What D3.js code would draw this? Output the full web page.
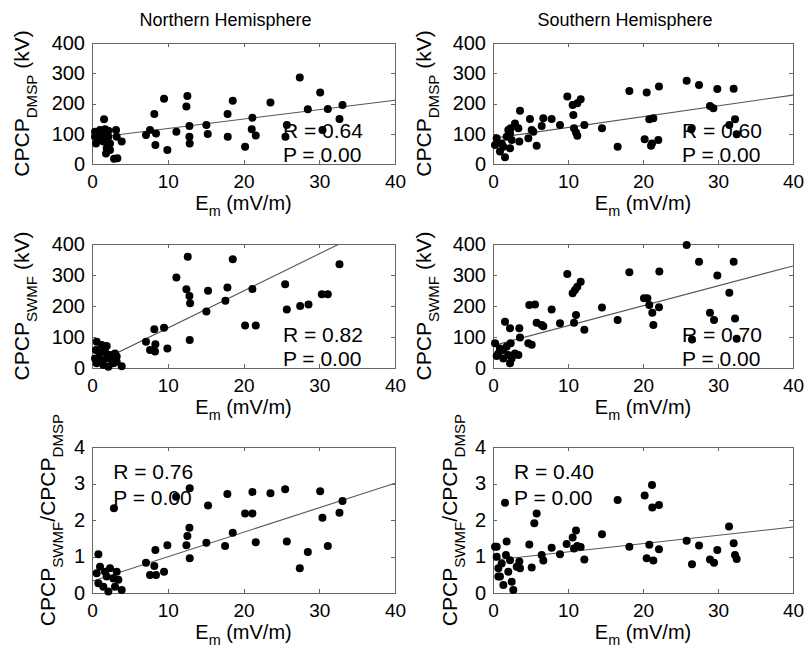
<!DOCTYPE html>
<html>
<head>
<meta charset="utf-8">
<script src="https://cdn.jsdelivr.net/npm/d3@7"></script>
<style>
  body { margin: 0; background: #fff; }
  text { font-family: "Liberation Sans", Arial, Helvetica, sans-serif; fill: #000; }
  .frame path, .frame line { stroke: #666; shape-rendering: crispEdges; }
</style>
</head>
<body>
<svg id="chart" width="806" height="649"></svg>
<script>
// ---- data ----
var titles = ["Northern Hemisphere", "Southern Hemisphere"];
var xTicks = [0, 10, 20, 30, 40];
var cpcpTicks = [0, 100, 200, 300, 400];
var ratioTicks = [0, 1, 2, 3, 4];

// E_m (mV/m), CPCP_DMSP (kV)
var nhDmsp = [
  [1.59,148],[0.40,107],[1.06,112],[1.72,115],[2.16,110],[3.17,112],[0.40,90],[1.28,96],
  [2.16,90],[3.26,90],[0.53,68],[1.50,74],[2.38,68],[3.92,74],[1.94,52],[2.38,46],[1.85,35],
  [2.91,17],[3.35,19],[0.84,85],
  [8.23,165],[9.51,216],[7.66,112],[7.13,96],[8.45,101],[8.37,63],[9.95,46],[11.14,107],
  [12.59,225],[12.46,190],[12.86,126],[12.86,90],[12.90,68],[15.1,129],[15.28,99],[17.9,165],
  [18.58,209],[17.92,90],[21.18,153],[21.09,115],[21.62,94],[20.21,57],[23.56,203],[25.54,90],
  [25.72,129],[27.43,286],[28.49,181],[30.12,236],[30.43,112],[31.13,182],[32.67,149],[33.07,195]
];
var shDmsp = [
  [0.49,85],[0.27,63],[1.16,68],[1.82,90],[2.27,101],[2.36,118],[2.93,134],[2.04,112],[1.38,57],
  [2.27,52],[0.93,41],[1.6,22],[2.49,79],[3.51,74],[3.38,118],[3.6,176],[4.71,85],[4.93,149],
  [5.38,107],[5.82,60],[5.16,112],[6.49,126],[6.71,151],[7.82,149],[8.93,129],[9.91,223],
  [10.62,195],[11.24,201],[11.69,214],[10.71,162],[10.8,118],[11.07,104],[11.24,93],[12.18,129],
  [14.53,118],[16.62,57],[18.18,241],[20.22,82],[20.49,236],[20.84,148],[21.38,151],[21.2,68],
  [21.07,60],[22.04,79],[22.13,256],[25.82,275],[27.47,261],[28.93,192],[29.38,184],[29.91,248],
  [32.09,249],[32.27,148],[31.51,129],[32.49,98],[26.44,115]
];
// E_m (mV/m), CPCP_SWMF (kV)
var nhSwmf = [
  [0.62,85],[1.28,74],[1.94,71],[0.53,58],[1.06,47],[1.72,53],[2.38,42],[3.04,47],[0.4,31],
  [1.06,26],[1.94,31],[2.6,26],[3.26,37],[0.62,15],[1.5,10],[2.16,4],[2.82,15],[3.92,6],
  [3.26,20],[1.59,63],
  [7.13,85],[7.66,58],[8.32,53],[8.37,77],[8.23,125],[9.51,130],[9.95,63],[11.14,292],
  [12.46,254],[12.64,359],[12.86,232],[12.95,209],[12.9,90],[15.1,182],[15.32,249],[17.61,217],
  [17.88,260],[18.58,351],[20.21,137],[21.18,255],[21.62,137],[25.5,270],[25.72,189],[27.48,200],
  [28.58,205],[30.34,238],[31.13,238],[32.67,335]
];
var shSwmf = [
  [0.27,80],[0.49,39],[0.93,63],[1.38,58],[1.82,69],[1.6,149],[2.27,128],[2.36,80],[2.04,42],
  [2.49,31],[2.27,15],[2.93,47],[3.38,42],[3.51,128],[3.6,98],[1.38,31],[0.71,47],
  [4.71,80],[5.16,75],[4.84,203],[5.6,205],[5.82,146],[6.49,139],[6.71,135],[7.82,189],
  [8.93,144],[9.91,303],[10.62,241],[10.93,252],[11.24,262],[11.69,278],[10.8,146],[11.07,171],
  [12.18,123],[14.53,195],[16.62,155],[18.18,309],[20.13,225],[20.58,225],[20.84,203],[21.24,178],
  [21.38,139],[22.13,196],[22.18,311],[25.82,397],[26.53,92],[27.47,343],[28.93,178],[29.47,155],
  [29.91,298],[31.51,243],[32.09,343],[32.27,160],[32.49,94]
];
// E_m (mV/m), CPCP_SWMF / CPCP_DMSP
var nhRatio = [
  [0.84,1.06],[0.62,0.54],[1.06,0.72],[1.94,0.45],[2.38,0.68],[3.26,0.58],[3.48,0.36],[3.04,0.17],
  [3.92,0.08],[1.5,0.17],[0.84,0.27],[2.16,0.04],[1.72,0.58],[2.82,0.4],[2.9,2.32],
  [7.13,0.83],[8.23,0.74],[7.66,0.49],[8.45,0.49],[9.51,0.58],[8.37,1.18],[9.95,1.31],
  [12.46,1.31],[12.59,1.56],[12.86,1.79],[12.9,0.95],[12.9,2.87],[11.1,2.64],[15.1,1.38],
  [15.32,2.4],[17.57,1.29],[17.87,2.71],[18.58,1.65],[20.21,2.18],[21.18,2.18],[21.18,2.77],
  [21.62,1.39],[23.56,2.73],[25.5,2.84],[25.72,1.41],[27.43,0.68],[28.49,1.12],[30.12,2.79],
  [30.42,2.06],[31.13,1.29],[32.67,2.2],[33.07,2.52]
];
var shRatio = [
  [1.6,2.47],[0.49,1.27],[0.27,1.27],[1.82,1.41],[0.49,0.99],[1.16,0.81],[2.27,0.9],[0.71,0.45],
  [2.04,0.58],[2.49,0.31],[1.38,0.22],[2.71,0.08],[0.71,0.68],[3.16,0.72],[1.73,1.04],[3.51,0.86],
  [3.6,0.68],[0.93,0.45],
  [4.84,1.33],[5.16,0.7],[5.51,1.91],[5.82,2.18],[6.49,1.04],[6.71,0.89],[7.82,1.24],[8.93,1.06],
  [9.82,1.34],[10.62,1.52],[11.07,1.71],[11.24,1.29],[10.8,1.22],[11.69,1.26],[12.18,0.92],
  [14.53,1.61],[16.62,2.55],[18.18,1.27],[20.22,2.67],[20.49,0.95],[20.84,1.32],[21.38,0.89],
  [21.2,2.96],[21.24,2.34],[22.13,2.41],[22.13,1.2],[25.82,1.43],[26.53,0.79],[27.47,1.3],
  [28.93,0.92],[29.47,0.83],[29.91,1.18],[31.47,1.82],[32.09,1.36],[32.27,1.04],[32.49,0.93]
];

// least squares lines as drawn: [intercept, slope]
var nhDmspFit = [86, 3.12], shDmspFit = [85, 3.57];
var nhSwmfFit = [9, 11.98], shSwmfFit = [72, 6.43];
var nhRatioFit = [0.32, 0.0672], shRatioFit = [0.90, 0.0227];
var rValues = ["0.64", "0.60", "0.82", "0.70", "0.76", "0.40"];
var pValues = ["0.00", "0.00", "0.00", "0.00", "0.00", "0.00"];

// ---- layout ----
var cols = [{x0: 92, x1: 395, lab: 29, lab3: 55}, {x0: 493, x1: 793, lab: 431, lab3: 457}];
var rows = [
  {y0: 43, y1: 164, max: 400, ticks: cpcpTicks, txt: [25.2, 86, 7]},
  {y0: 244, y1: 368, max: 400, ticks: cpcpTicks, txt: [25.2, 84, 6]},
  {y0: 447, y1: 593, max: 4, ticks: ratioTicks, txt: [2.8, 3.12, 2.41]}
];
var yLabels = [
  [["CPCP", 0], ["DMSP", 1], [" (kV)", 0]],
  [["CPCP", 0], ["SWMF", 1], [" (kV)", 0]],
  [["CPCP", 0], ["SWMF", 1], ["/CPCP", 0], ["DMSP", 1]]
];
var panels = [
  [nhDmsp, nhDmspFit], [shDmsp, shDmspFit],
  [nhSwmf, nhSwmfFit], [shSwmf, shSwmfFit],
  [nhRatio, nhRatioFit], [shRatio, shRatioFit]
];

var svg = d3.select("#chart");

titles.forEach(function(t, i) {
  svg.append("text")
    .attr("x", (cols[i].x0 + cols[i].x1) / 2 - 18)
    .attr("y", 26)
    .attr("text-anchor", "middle")
    .style("font-size", "18px")
    .text(t);
});

// add text with sub-scripts, parts = [[string, isSub], ...]
function richText(sel, parts, size, drop) {
  var down = false;
  parts.forEach(function(p) {
    var ts = sel.append("tspan").text(p[0]);
    if (p[1] && !down) { ts.attr("dy", size * drop).style("font-size", (size * 0.72) + "px"); down = true; }
    else if (!p[1] && down) { ts.attr("dy", -size * drop); down = false; }
    else if (p[1]) ts.style("font-size", (size * 0.72) + "px");
  });
}

panels.forEach(function(pn, k) {
  var ri = Math.floor(k / 2), ci = k % 2;
  var c = cols[ci], r = rows[ri];
  var data = pn[0], fit = pn[1];

  var x = d3.scaleLinear().domain([0, 40]).range([c.x0, c.x1]);
  var y = d3.scaleLinear().domain([0, r.max]).range([r.y1, r.y0]);

  var g = svg.append("g");

  g.append("g").attr("class", "frame")
    .attr("transform", "translate(0," + r.y1 + ")")
    .call(d3.axisBottom(x).tickValues(xTicks).tickSize(-4).tickSizeOuter(0).tickPadding(10.5))
    .call(function(a) { a.selectAll("text").style("font-size", "19px").attr("fill", "#000"); });
  g.append("g").attr("class", "frame")
    .attr("transform", "translate(0," + r.y0 + ")")
    .call(d3.axisTop(x).tickValues(xTicks).tickSize(-4).tickSizeOuter(0).tickFormat(""));
  g.append("g").attr("class", "frame")
    .attr("transform", "translate(" + c.x0 + ",0)")
    .call(d3.axisLeft(y).tickValues(r.ticks).tickFormat(d3.format("d")).tickSize(-4).tickSizeOuter(0).tickPadding(7))
    .call(function(a) { a.selectAll("text").style("font-size", "20px").attr("fill", "#000"); });
  g.append("g").attr("class", "frame")
    .attr("transform", "translate(" + c.x1 + ",0)")
    .call(d3.axisRight(y).tickValues(r.ticks).tickSize(-4).tickSizeOuter(0).tickFormat(""));
  g.selectAll(".frame").attr("font-family", null).attr("font-size", null);

  // regression line, clipped to the box
  var cid = "clip" + k;
  svg.append("clipPath").attr("id", cid).append("rect")
    .attr("x", c.x0).attr("y", r.y0).attr("width", c.x1 - c.x0).attr("height", r.y1 - r.y0);
  g.append("line")
    .attr("clip-path", "url(#" + cid + ")")
    .attr("x1", x(0)).attr("y1", y(fit[0]))
    .attr("x2", x(40)).attr("y2", y(fit[0] + fit[1] * 40))
    .attr("stroke", "#555").attr("stroke-width", 1.1);

  g.selectAll("circle").data(data).enter().append("circle")
    .attr("cx", function(d) { return x(d[0]); })
    .attr("cy", function(d) { return y(d[1]); })
    .attr("r", 4)
    .attr("fill", "#000");

  g.append("text").attr("x", x(r.txt[0])).attr("y", y(r.txt[1]))
    .style("font-size", "21px").text("R = " + rValues[k]);
  g.append("text").attr("x", x(r.txt[0])).attr("y", y(r.txt[2]))
    .style("font-size", "21px").text("P = " + pValues[k]);

  // x label
  var xl = g.append("text")
    .attr("x", (c.x0 + c.x1) / 2).attr("y", r.y1 + 46)
    .attr("text-anchor", "middle").style("font-size", "20px");
  richText(xl, [["E", 0], ["m", 1], [" (mV/m)", 0]], 20, 0.28);

  // y label
  var lx = ri === 2 ? c.lab3 : c.lab;
  var yl = g.append("text")
    .attr("transform", "translate(" + lx + "," + ((r.y0 + r.y1) / 2) + ") rotate(-90)")
    .attr("text-anchor", "middle").style("font-size", "21px");
  richText(yl, yLabels[ri], 21, 0.38);
});
</script>
</body>
</html>
